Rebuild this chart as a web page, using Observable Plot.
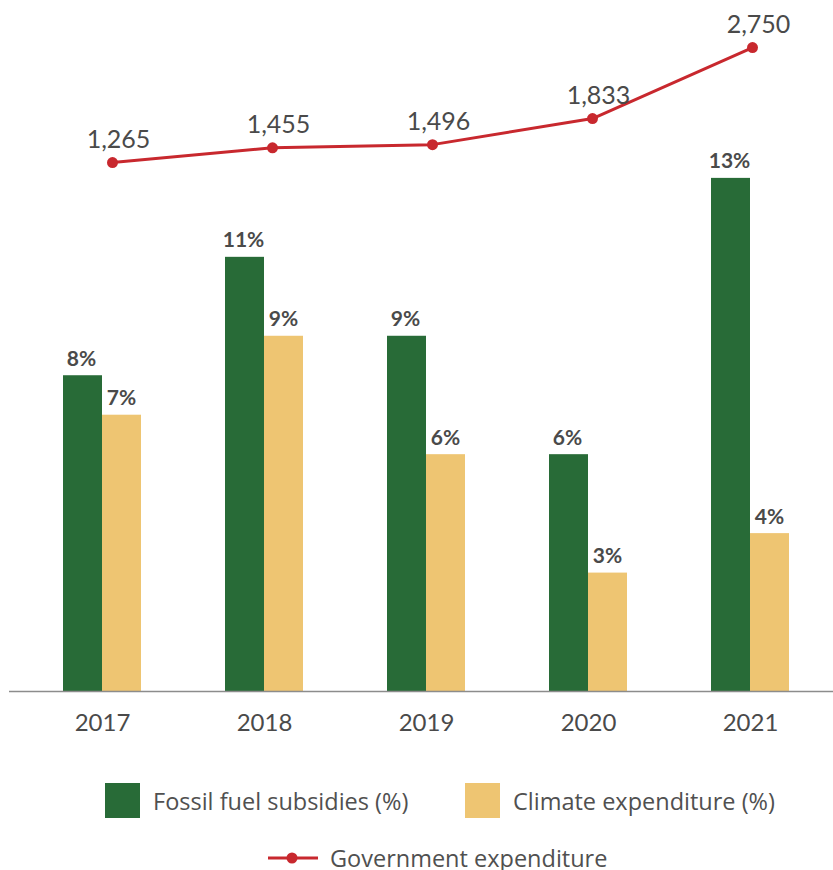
<!DOCTYPE html>
<html><head><meta charset="utf-8">
<script src="https://cdn.jsdelivr.net/npm/d3@7"></script>
<script src="https://cdn.jsdelivr.net/npm/@observablehq/plot@0.6"></script>
<style>
body{margin:0;background:#fff;font-family:Lato,"Open Sans",sans-serif;overflow:hidden;}
#wrap{position:relative;width:833px;height:870px;}
#bars,#line{position:absolute;left:0;top:0;}
.leg{position:absolute;display:flex;align-items:center;font-family:"Open Sans",sans-serif;font-size:23.5px;line-height:28px;color:#505050;white-space:nowrap;}
.sw{width:35px;height:35px;margin-right:13px;}
</style></head><body>
<div id="wrap">
<div id="bars"></div><div id="line"></div>
<div class="leg" style="left:105px;top:783px"><div class="sw" style="background:#286b37"></div>Fossil fuel subsidies (%)</div>
<div class="leg" style="left:465px;top:783px"><div class="sw" style="background:#eec572"></div>Climate expenditure (%)</div>
<div class="leg" style="left:268px;top:844px"><svg width="52" height="24" style="margin-right:10px"><line x1="0" x2="50" y1="12" y2="12" stroke="#c8282e" stroke-width="3"/><circle cx="24" cy="12" r="5.5" fill="#c8282e"/></svg>Government expenditure</div>
</div>
<script>
const years = ["2017","2018","2019","2020","2021"];
const fossil = [8, 11, 9, 6, 13];
const climate = [7, 9, 6, 3, 4];
const gov = [1265, 1455, 1496, 1833, 2750];

const fossilData = years.map((y,i)=>({year:y, value:fossil[i]}));
const climateData = years.map((y,i)=>({year:y, value:climate[i]}));
const govData = years.map((y,i)=>({year:y, value:gov[i]}));

const W = 833, H = 750, MT = 20, MB = 59;
const green = "#286b37", yellow = "#eec572", red = "#c8282e", txt = "#4a4a4a";

const bars = Plot.plot({
  width: W, height: H, marginTop: MT, marginBottom: MB, marginLeft: 9, marginRight: 0,
  style: {fontFamily: "Lato, 'Open Sans', sans-serif", background: "transparent"},
  x: {domain: years, type: "band", paddingInner: 0.519, paddingOuter: 0.3026, align: 0.551, axis: null, label: null},
  y: {domain: [0, 17], axis: null},
  marks: [
    Plot.barY(fossilData, {x: "year", y: "value", fill: green, insetRight: 39}),
    Plot.barY(climateData, {x: "year", y: "value", fill: yellow, insetLeft: 39}),
    Plot.text(fossilData, {x: "year", y: "value", text: d => d.value + "%", dx: -21, dy: -10, lineAnchor: "bottom", fontSize: 21, fontWeight: "bold", fill: txt}),
    Plot.text(climateData, {x: "year", y: "value", text: d => d.value + "%", dx: 19, dy: -10, lineAnchor: "bottom", fontSize: 21, fontWeight: "bold", fill: txt}),
    Plot.ruleY([0], {stroke: "#8c8c8c", strokeWidth: 1.5}),
    Plot.axisX({tickSize: 0, tickPadding: 22, fontSize: 24, color: txt, fill: txt, label: null})
  ]
});
document.getElementById("bars").appendChild(bars);

const line = Plot.plot({
  width: W, height: H, marginTop: MT, marginBottom: MB, marginLeft: 112, marginRight: 81,
  style: {fontFamily: "Lato, 'Open Sans', sans-serif", background: "transparent"},
  x: {domain: years, type: "point", padding: 0, axis: null},
  y: {domain: [-5566, 3099], axis: null},
  marks: [
    Plot.line(govData, {x: "year", y: "value", stroke: red, strokeWidth: 3}),
    Plot.dot(govData, {x: "year", y: "value", r: 5.5, fill: red}),
    Plot.text(govData, {x: "year", y: "value", text: d => d3.format(",")(d.value), dx: 6, dy: -15, lineAnchor: "bottom", fontSize: 25, fill: txt})
  ]
});
document.getElementById("line").appendChild(line);
</script>
</body></html>
